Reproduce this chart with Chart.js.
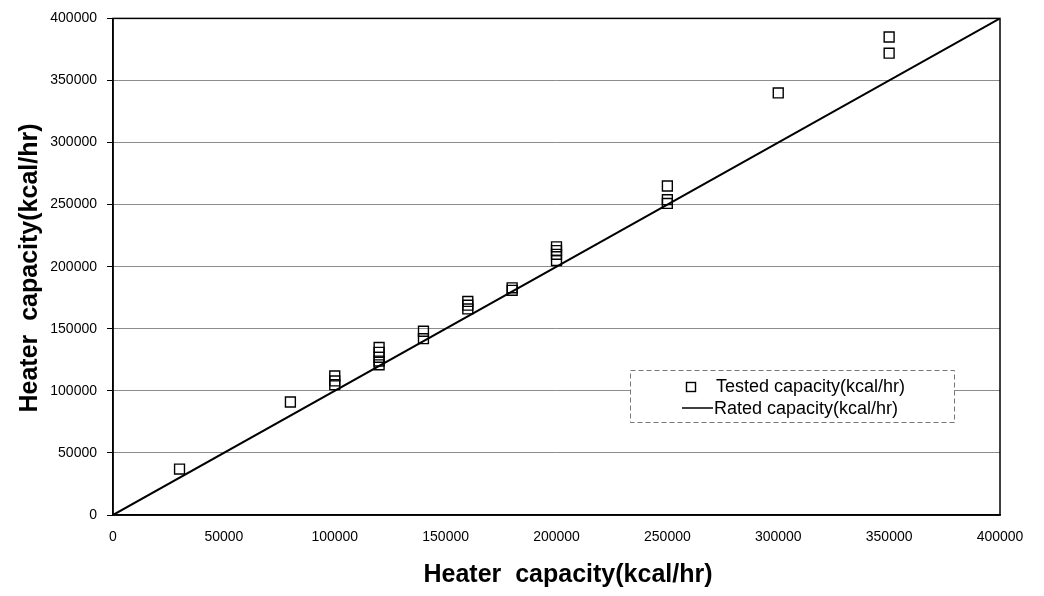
<!DOCTYPE html>
<html>
<head>
<meta charset="utf-8">
<script src="https://cdn.jsdelivr.net/npm/chart.js@4/dist/chart.umd.min.js"></script>
<style>
  body { margin: 0; background: #fff; }
  canvas { display: block; }
</style>
</head>
<body>
<canvas id="capacityChart" width="1044" height="596"></canvas>
<script>
// heater capacity (kcal/hr) vs tested output
var ratedX = [30000, 80000, 100000, 100000, 100000, 120000, 120000, 120000, 120000, 120000,
  140000, 140000, 160000, 160000, 160000, 180000, 180000,
  200000, 200000, 200000, 200000, 250000, 250000, 250000, 300000, 350000, 350000];
var testedY = [37000, 91000, 112000, 108000, 105000, 135000, 131000, 127000, 124000, 121000,
  148000, 142000, 172000, 169000, 166000, 183000, 181000,
  216000, 213000, 210000, 205000, 265000, 254000, 251000, 340000, 385000, 372000];
var lineX = [0, 400000];
var lineY = [0, 400000];
var tickStep = 50000;

var testedPoints = ratedX.map(function (x, i) { return { x: x, y: testedY[i] }; });
var ratedPoints = lineX.map(function (x, i) { return { x: x, y: lineY[i] }; });

// frame, axis titles and boxed legend
var decorations = {
  id: "decorations",
  afterDatasetsDraw: function (chart) {
    var ctx = chart.ctx;
    var a = chart.chartArea;
    ctx.save();
    ctx.strokeStyle = "#000";
    ctx.lineWidth = 1.5;
    ctx.strokeRect(a.left, a.top, a.right - a.left, a.bottom - a.top);

    ctx.fillStyle = "#000";
    ctx.font = "bold 25px 'Liberation Sans', Arial, sans-serif";
    ctx.textAlign = "center";
    ctx.textBaseline = "middle";
    ctx.fillText("Heater  capacity(kcal/hr)", 568, 575);
    ctx.translate(30, 268);
    ctx.rotate(-Math.PI / 2);
    ctx.fillText("Heater  capacity(kcal/hr)", 0, 0);
    ctx.restore();

    // legend
    ctx.save();
    ctx.fillStyle = "#fff";
    ctx.fillRect(630, 370, 324, 52);
    ctx.strokeStyle = "#777";
    ctx.lineWidth = 1;
    ctx.setLineDash([5, 3]);
    ctx.strokeRect(630.5, 370.5, 324, 52);
    ctx.setLineDash([]);
    ctx.strokeStyle = "#000";
    ctx.lineWidth = 1.4;
    ctx.strokeRect(686.5, 382.5, 9, 9);
    ctx.lineWidth = 1.5;
    ctx.beginPath();
    ctx.moveTo(682, 408);
    ctx.lineTo(713, 408);
    ctx.stroke();
    ctx.fillStyle = "#000";
    ctx.font = "18px 'Liberation Sans', Arial, sans-serif";
    ctx.textAlign = "left";
    ctx.textBaseline = "middle";
    ctx.fillText("Tested capacity(kcal/hr)", 716, 387);
    ctx.fillText("Rated capacity(kcal/hr)", 714, 409);
    ctx.restore();
  }
};

var chart = new Chart(document.getElementById("capacityChart").getContext("2d"), {
  type: "scatter",
  data: {
    datasets: [
      {
        label: "Tested capacity(kcal/hr)",
        data: testedPoints,
        pointStyle: "rect",
        pointRadius: 7,
        pointBorderWidth: 1.4,
        pointBorderColor: "#000",
        pointBackgroundColor: "rgba(255,255,255,0)",
        showLine: false
      },
      {
        label: "Rated capacity(kcal/hr)",
        data: ratedPoints,
        showLine: true,
        borderColor: "#000",
        borderWidth: 2,
        pointRadius: 0
      }
    ]
  },
  options: {
    responsive: false,
    animation: false,
    layout: { padding: { top: 12, right: 44, left: 0, bottom: 0 } },
    plugins: {
      legend: { display: false },
      tooltip: { enabled: false }
    },
    scales: {
      x: {
        type: "linear",
        min: 0,
        max: 400000,
        afterFit: function (scale) { scale.height = 81; },
        ticks: {
          stepSize: tickStep,
          color: "#000",
          padding: 14,
          font: { size: 14, family: "'Liberation Sans', Arial, sans-serif" },
          maxRotation: 0,
          callback: function (v) { return String(v); }
        },
        grid: { drawOnChartArea: false, drawTicks: false },
        border: { color: "#000", width: 1.5 }
      },
      y: {
        type: "linear",
        min: 0,
        max: 400000,
        afterFit: function (scale) { scale.width = 113; },
        ticks: {
          stepSize: tickStep,
          color: "#000",
          padding: 10,
          font: { size: 14, family: "'Liberation Sans', Arial, sans-serif" },
          callback: function (v) { return String(v); }
        },
        grid: { color: "#8c8c8c", lineWidth: 1, tickLength: 6, tickColor: "#000" },
        border: { color: "#000", width: 1.5 }
      }
    }
  },
  plugins: [decorations]
});
</script>
</body>
</html>
